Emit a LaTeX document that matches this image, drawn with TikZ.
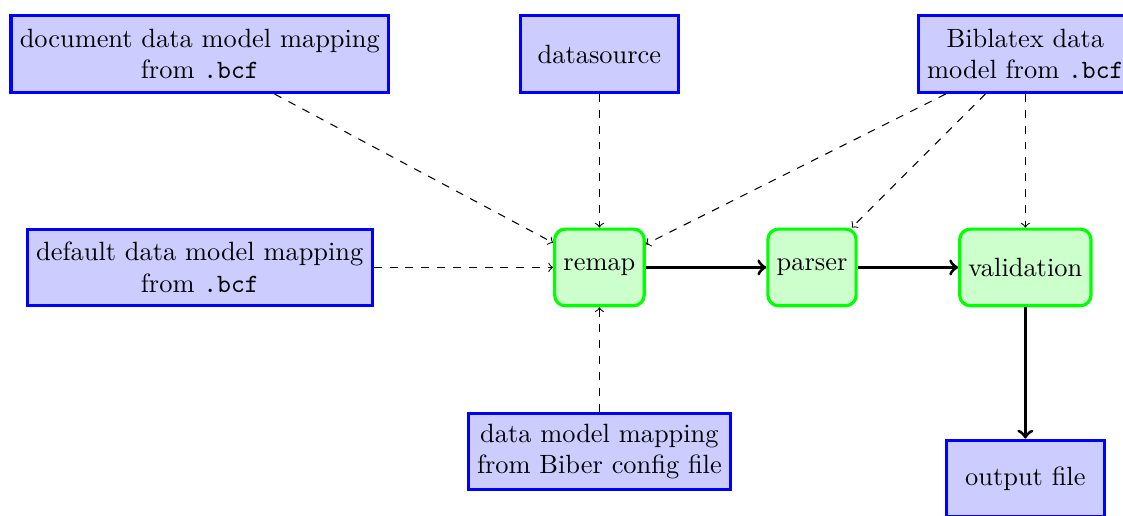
\documentclass[tikz,border=0pt]{standalone}
\usepackage{tikz}

\tikzset{
  dmbox/.style={draw=blue, fill=blue!20, very thick, align=center,
    minimum width=2.1cm, minimum height=1.02cm},
  procbox/.style={draw=green, fill=green!20, very thick, rounded corners,
    minimum height=1.02cm},
}

\begin{document}
\begin{tikzpicture}
\useasboundingbox (-7.98,-3.30) rectangle (6.97,3.56);

\node[procbox] (remap) at (0,0) {remap};
\node[procbox] (parser) at (2.83,0) {parser};
\node[procbox] (valid) at (5.67,0) {validation};
\node[dmbox] (docmap) at (-5.32,2.84) {document data model mapping\\from \texttt{.bcf}};
\node[dmbox] (src) at (0,2.84) {datasource};
\node[dmbox] (bltx) at (5.67,2.84) {Biblatex data\\model from \texttt{.bcf}};
\node[dmbox] (defmap) at (-5.32,0) {default data model mapping\\from \texttt{.bcf}};
\node[dmbox] (cfgmap) at (0,-2.45) {data model mapping\\from Biber config file};
\node[dmbox] (out) at (5.67,-2.81) {output file};

\draw[->,dashed] (docmap) -- (remap);
\draw[->,dashed] (defmap) -- (remap);
\draw[->,dashed] (src) -- (remap);
\draw[->,dashed] (cfgmap) -- (remap);
\draw[->,dashed] (bltx) -- (remap);
\draw[->,dashed] (bltx) -- (parser);
\draw[->,dashed] (bltx) -- (valid);
\draw[->,very thick] (remap) -- (parser);
\draw[->,very thick] (parser) -- (valid);
\draw[->,very thick] (valid) -- (out);
\end{tikzpicture}
\end{document}
